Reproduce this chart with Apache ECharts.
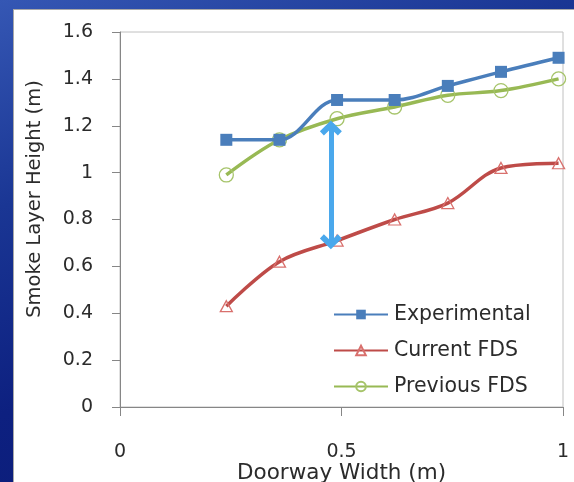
<!DOCTYPE html>
<html>
<head>
<meta charset="utf-8">
<script src="https://cdn.jsdelivr.net/npm/echarts@6/dist/echarts.min.js"></script>
<style>
  html, body { margin: 0; padding: 0; }
  body {
    width: 574px; height: 482px; overflow: hidden; position: relative;
    background: linear-gradient(160deg, #3557b4 0%, #1a3694 30%, #0d2080 60%, #0a1a72 100%);
  }
  #panel {
    position: absolute; left: 13px; top: 9px; width: 570px; height: 480px;
    background: #ffffff; border: 1px solid #a8a8a8; box-sizing: border-box;
  }
  #chart { position: absolute; left: 0; top: 0; width: 574px; height: 482px; }
</style>
</head>
<body>
<div id="panel"></div>
<div id="chart"></div>
<script>
// Doorway widths (m)
const doorwayWidth = [0.24, 0.36, 0.49, 0.62, 0.74, 0.86, 0.99];
// Smoke layer heights (m)
const experimental = [1.14, 1.14, 1.31, 1.31, 1.37, 1.43, 1.49];
const currentFDS   = [0.43, 0.62, 0.71, 0.80, 0.87, 1.02, 1.04];
const previousFDS  = [0.99, 1.14, 1.23, 1.28, 1.33, 1.35, 1.40];
// Gap indicator between the two model results
const gapX = 0.476;
const gapTop = 1.19;
const gapBottom = 0.705;

const pairs = ys => doorwayWidth.map((x, i) => [x, ys[i]]);

const FONT = '"DejaVu Sans", sans-serif';
const TEXT = '#2b2b2b';
const AXIS = '#868686';

// Bold chevron head for the double-headed gap arrow
const chevron = 'path://M0,11 L11,0 L22,11 L18,15.5 L11,8.5 L4,15.5 Z';

const chart = echarts.init(document.getElementById('chart'), null, { renderer: 'canvas' });
chart.setOption({
  backgroundColor: 'transparent',
  animation: false,
  textStyle: { fontFamily: FONT },
  grid: {
    left: 120, right: 11, top: 32, bottom: 75,
    outerBoundsMode: 'none', containLabel: false,
    show: true, borderColor: '#c0c0c0', borderWidth: 1, backgroundColor: 'transparent'
  },
  legend: {
    orient: 'vertical',
    left: 328, top: 299,
    itemWidth: 54, itemHeight: 12, itemGap: 15,
    textStyle: { fontFamily: FONT, fontSize: 20.5, color: TEXT, padding: [0, 0, 0, 1] },
    data: ['Experimental', 'Current FDS', 'Previous FDS']
  },
  xAxis: {
    type: 'value', min: 0, max: 1, interval: 0.5,
    name: 'Doorway Width (m)', nameLocation: 'middle', nameGap: 55, nameMoveOverlap: false,
    nameTextStyle: { fontFamily: FONT, fontSize: 21.5, color: TEXT },
    axisLine: { show: true, lineStyle: { color: AXIS, width: 1 } },
    axisTick: { show: true, inside: false, length: 9, lineStyle: { color: AXIS } },
    axisLabel: { margin: 36, fontFamily: FONT, fontSize: 19, color: TEXT },
    splitLine: { show: false }
  },
  yAxis: {
    type: 'value', min: 0, max: 1.6, interval: 0.2,
    name: 'Smoke Layer Height (m)', nameLocation: 'middle', nameGap: 75, nameMoveOverlap: false,
    nameTextStyle: { fontFamily: FONT, fontSize: 19.5, color: TEXT, padding: [0, 0, 0, 41] },
    axisLine: { show: true, lineStyle: { color: AXIS, width: 1 } },
    axisTick: { show: true, inside: false, length: 8, lineStyle: { color: AXIS } },
    axisLabel: { margin: 27, fontFamily: FONT, fontSize: 19, color: TEXT },
    splitLine: { show: false }
  },
  series: [
    {
      name: 'Experimental', type: 'line', smooth: 0.35, z: 3,
      data: pairs(experimental),
      symbol: 'rect', symbolSize: 12,
      lineStyle: { color: '#4a7ebb', width: 3.5 },
      itemStyle: { color: '#4a7ebb', borderColor: '#4a7ebb', borderWidth: 0 }
    },
    {
      name: 'Current FDS', type: 'line', smooth: 0.35, z: 2,
      data: pairs(currentFDS),
      symbol: 'triangle', symbolSize: [12, 11],
      lineStyle: { color: '#be4b48', width: 3.5 },
      itemStyle: { color: 'rgba(255,255,255,0)', borderColor: '#d9706d', borderWidth: 1.3 }
    },
    {
      name: 'Previous FDS', type: 'line', smooth: 0.35, z: 2,
      data: pairs(previousFDS),
      symbol: 'circle', symbolSize: 14,
      lineStyle: { color: '#98b954', width: 3.5 },
      itemStyle: { color: 'rgba(255,255,255,0)', borderColor: '#a6c46a', borderWidth: 1.3 },
      markLine: {
        silent: true, z: 10,
        symbol: [chevron, chevron], symbolSize: [22, 15],
        label: { show: false },
        lineStyle: { color: '#4aa8ec', width: 5, type: 'solid' },
        itemStyle: { color: '#4aa8ec' },
        data: [[{ coord: [gapX, gapTop] }, { coord: [gapX, gapBottom] }]]
      }
    }
  ]
});
</script>
</body>
</html>
